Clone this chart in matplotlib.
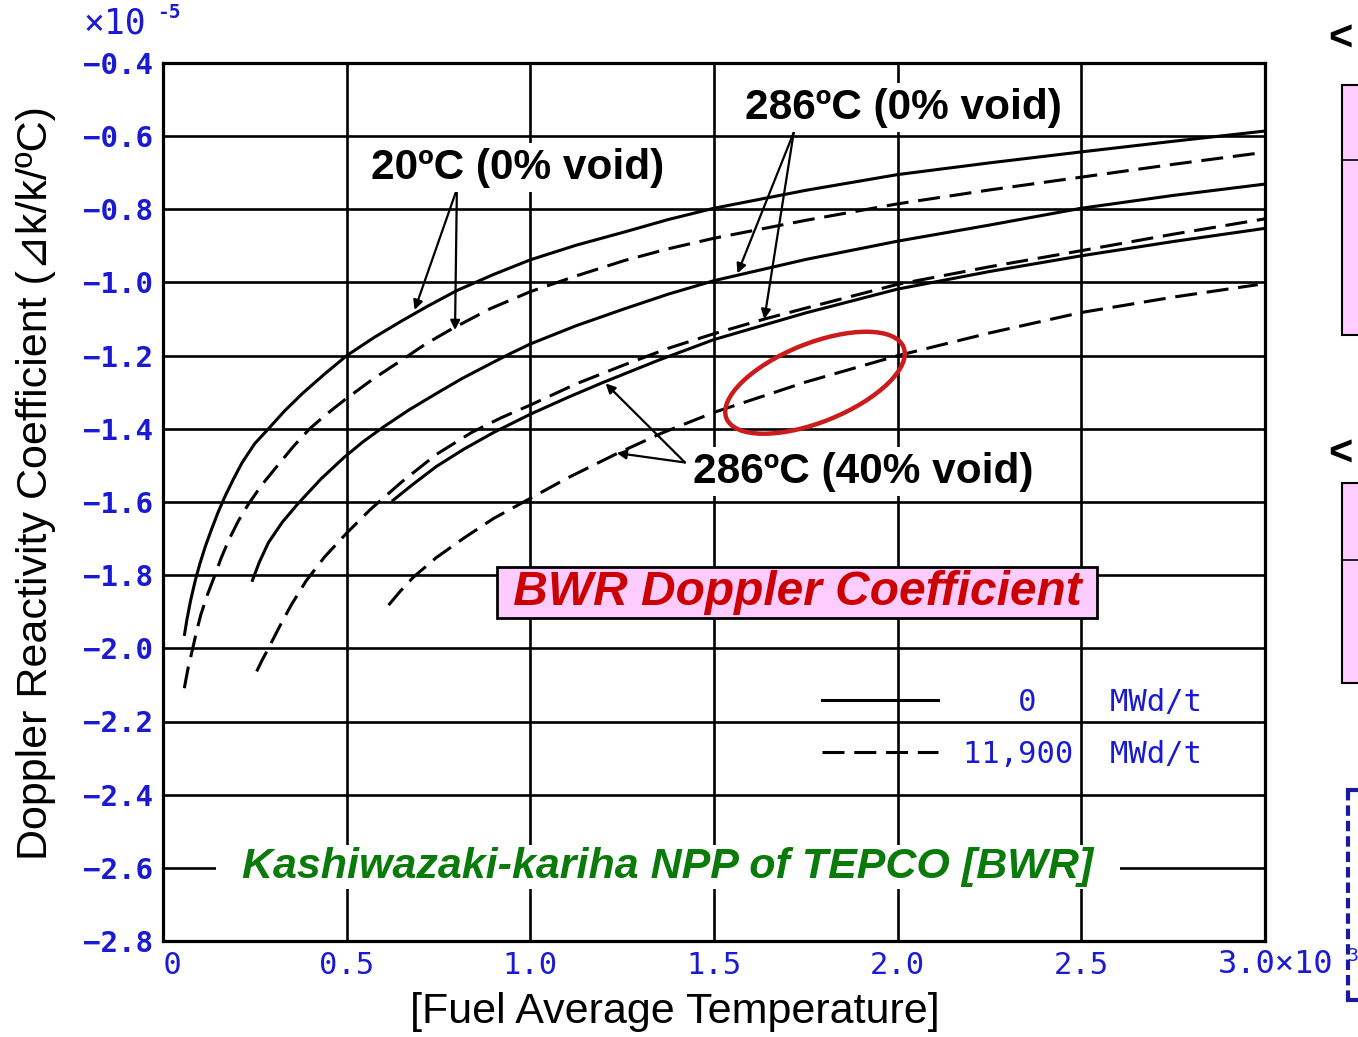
import matplotlib
matplotlib.use("Agg")
import matplotlib.pyplot as plt
from matplotlib.patches import Ellipse, Rectangle
from matplotlib.lines import Line2D
from matplotlib.font_manager import FontProperties

# ---- data (x in 10^3 C, y in 10^-5 dk/k/C) ----
# 20C (0% void), 0 MWd/t
c20_fresh_x = [0.058, 0.065, 0.075, 0.087, 0.1, 0.115, 0.132, 0.15, 0.17, 0.192, 0.215, 0.25, 0.287, 0.33, 0.38,
               0.44, 0.5, 0.575, 0.65, 0.72, 0.8, 0.9, 1.0, 1.125, 1.256, 1.375, 1.5, 1.75, 2.0, 2.25, 2.5,
               2.75, 3.0]
c20_fresh_y = [-1.966, -1.922, -1.87, -1.818, -1.77, -1.722, -1.675, -1.628, -1.582, -1.537, -1.493, -1.44,
               -1.40, -1.352, -1.303, -1.25, -1.20, -1.15, -1.105, -1.065, -1.022, -0.978, -0.938, -0.898,
               -0.862, -0.828, -0.797, -0.748, -0.705, -0.673, -0.643, -0.614, -0.586]
# 20C (0% void), 11,900 MWd/t
c20_burn_x = [0.058, 0.069, 0.081, 0.091, 0.103, 0.12, 0.139, 0.158, 0.179, 0.205, 0.233, 0.27, 0.314, 0.355,
              0.399, 0.445, 0.493, 0.57, 0.65, 0.715, 0.786, 0.89, 1.0, 1.125, 1.256, 1.375, 1.5, 1.75, 2.0,
              2.25, 2.5, 2.75, 3.0]
c20_burn_y = [-2.109, -2.05, -2.0, -1.955, -1.908, -1.856, -1.806, -1.754, -1.704, -1.652, -1.605, -1.552,
              -1.498, -1.448, -1.40, -1.36, -1.322, -1.265, -1.212, -1.168, -1.127, -1.072, -1.025, -0.982,
              -0.94, -0.908, -0.879, -0.83, -0.785, -0.747, -0.712, -0.677, -0.644]
# 286C (0% void), 0 MWd/t
c286_fresh_x = [0.242, 0.262, 0.287, 0.325, 0.367, 0.43, 0.493, 0.545, 0.6, 0.67, 0.75, 0.815, 0.88, 0.94, 1.0,
                1.125, 1.256, 1.375, 1.5, 1.75, 2.0, 2.25, 2.5, 2.75, 3.0]
c286_fresh_y = [-1.818, -1.765, -1.711, -1.655, -1.605, -1.537, -1.478, -1.435, -1.395, -1.348, -1.30, -1.262,
                -1.228, -1.197, -1.168, -1.118, -1.072, -1.032, -0.995, -0.937, -0.887, -0.843, -0.797,
                -0.762, -0.731]
# 286C (0% void), 11,900 MWd/t
c286_burn_x = [0.255, 0.27, 0.287, 0.315, 0.35, 0.39, 0.44, 0.5, 0.565, 0.65, 0.744, 0.84, 0.92, 1.0, 1.125,
               1.256, 1.375, 1.5, 1.637, 1.75, 2.0, 2.25, 2.5, 2.75, 3.0]
c286_burn_y = [-2.063, -2.032, -2.0, -1.945, -1.88, -1.815, -1.75, -1.685, -1.62, -1.545, -1.47, -1.41, -1.37,
               -1.335, -1.277, -1.225, -1.18, -1.14, -1.10, -1.07, -1.005, -0.957, -0.913, -0.868, -0.826]
# 286C (40% void), 0 MWd/t
c286v_fresh_x = [0.623, 0.68, 0.744, 0.82, 0.9, 1.0, 1.1, 1.196, 1.35, 1.5, 1.75, 2.0, 2.25, 2.5, 2.75, 3.0]
c286v_fresh_y = [-1.598, -1.552, -1.503, -1.455, -1.41, -1.36, -1.315, -1.274, -1.212, -1.156, -1.083, -1.018,
                 -0.97, -0.927, -0.888, -0.852]
# 286C (40% void), 11,900 MWd/t
c286v_burn_x = [0.614, 0.645, 0.681, 0.744, 0.82, 0.9, 1.0, 1.1, 1.235, 1.357, 1.5, 1.75, 2.0, 2.25, 2.5, 2.75,
                2.98]
c286v_burn_y = [-1.882, -1.845, -1.806, -1.752, -1.698, -1.645, -1.59, -1.535, -1.468, -1.412, -1.355, -1.272,
                -1.20, -1.138, -1.082, -1.04, -1.006]

xtick_vals = [0, 0.5, 1.0, 1.5, 2.0, 2.5, 3.0]
xtick_labels = [" 0", "0.5", "1.0", "1.5", "2.0", "2.5", ""]
ytick_vals = [-0.4, -0.6, -0.8, -1.0, -1.2, -1.4, -1.6, -1.8, -2.0, -2.2, -2.4, -2.6, -2.8]
legend_labels = ["   0    MWd/t", "11,900  MWd/t"]

BLUE = "#1a1ad2"
SANS = ["Liberation Sans", "DejaVu Sans", "Noto Sans CJK JP"]
MONO = ["DejaVu Sans Mono", "DejaVu Sans"]

fig = plt.figure(figsize=(13.58, 10.37), dpi=100)
ax = fig.add_axes([163 / 1358, 96 / 1037, 1102 / 1358, 878 / 1037])

dash = (7.2, 3.2)
lw = 2.2
solid_curves = [(c20_fresh_x, c20_fresh_y), (c286_fresh_x, c286_fresh_y), (c286v_fresh_x, c286v_fresh_y)]
dashed_curves = [(c20_burn_x, c20_burn_y), (c286_burn_x, c286_burn_y), (c286v_burn_x, c286v_burn_y)]
for xs, ys in solid_curves:
    ax.plot(xs, ys, color="black", lw=lw, solid_capstyle="butt", solid_joinstyle="round", zorder=3)
for xs, ys in dashed_curves:
    ax.plot(xs, ys, color="black", lw=lw, dashes=dash, dash_capstyle="butt", zorder=3)

ax.set_xlim(0, 3.0)
ax.set_ylim(-2.8, -0.4)
ax.set_xticks(xtick_vals)
ax.set_xticklabels(xtick_labels, fontfamily=MONO, fontsize=22, color=BLUE)
ax.set_yticks(ytick_vals)
ax.set_yticklabels(["\u2212%.1f" % abs(v) for v in ytick_vals], fontfamily=MONO,
                   fontsize=21, fontweight="bold", color=BLUE)
ax.tick_params(length=0, pad=7)
ax.grid(True, color="black", lw=1.9)
ax.set_axisbelow(True)
for sp in ax.spines.values():
    sp.set_linewidth(2.3)

ax.set_xlabel("[Fuel Average Temperature]", fontfamily=SANS, fontsize=31)
ax.xaxis.set_label_coords(0.4646, -0.058)
ax.set_ylabel("Doppler Reactivity Coefficient (\u22bfk/k/\u00baC)", fontfamily=SANS, fontsize=31)
ax.yaxis.set_label_coords(-0.097, 0.522)

# exponent markers
fig.text(83 / 1358, 1 - 24 / 1037, "\u00d710", fontfamily=MONO, fontsize=25, color=BLUE, va="center")
fig.text(157 / 1358, 1 - 13 / 1037, "-5", fontfamily=MONO, fontsize=14, fontweight="bold", color=BLUE, va="center")
ax.text(2.872, -2.865, "3.0\u00d710", fontfamily=MONO, fontsize=23, color=BLUE, va="center", ha="left", clip_on=False)
ax.text(3.225, -2.84, "3", fontfamily=MONO, fontsize=13, color=BLUE, va="center", ha="left", clip_on=False)

# curve labels
lab_kw = dict(fontfamily=SANS, fontsize=30.5, fontweight="bold", va="center", ha="left", zorder=5,
              bbox=dict(boxstyle="square,pad=0.1", fc="white", ec="none"))
ax.text(0.566, -0.686, "20\u00baC (0% void)   ", **lab_kw)
ax.text(1.584, -0.522, "286\u00baC (0% void)", **lab_kw)
ax.text(1.443, -1.517, "286\u00baC (40% void)", **lab_kw)

arr = dict(arrowstyle="-|>", color="black", lw=1.6, mutation_scale=14, shrinkA=0, shrinkB=0)
for tip in [(0.685, -1.075), (0.795, -1.13)]:
    ax.annotate("", xy=tip, xytext=(0.80, -0.745), arrowprops=arr, zorder=4)
for tip in [(1.564, -0.975), (1.637, -1.10)]:
    ax.annotate("", xy=tip, xytext=(1.717, -0.59), arrowprops=arr, zorder=4)
for tip in [(1.205, -1.276), (1.235, -1.466)]:
    ax.annotate("", xy=tip, xytext=(1.421, -1.492), arrowprops=arr, zorder=4)

# highlighted region
ax.add_patch(Ellipse((1.775, -1.274), 0.52, 0.215, angle=22, fill=False,
                     edgecolor="#cc1b1b", lw=3.2, zorder=6))

ax.text(1.726, -1.848, " BWR Doppler Coefficient ", fontfamily=SANS, fontsize=34.5,
        fontweight="bold", fontstyle="italic", color="#cc0000", ha="center", va="center", zorder=6,
        bbox=dict(boxstyle="square,pad=0.06", fc="#ffccff", ec="black", lw=2))
ax.text(1.375, -2.597, "  Kashiwazaki-kariha NPP of TEPCO [BWR]  ", fontfamily=SANS, fontsize=31,
        fontweight="bold", fontstyle="italic", color="#0a7a0a", ha="center", va="center", zorder=6,
        bbox=dict(boxstyle="square,pad=0.05", fc="white", ec="none"))

# burnup legend
handles = [Line2D([], [], color="black", lw=lw),
           Line2D([], [], color="black", lw=lw, dashes=dash)]
ax.legend(handles, legend_labels, loc="upper left", bbox_to_anchor=(0.598, 0.288),
          frameon=False, prop=FontProperties(family=MONO, size=22), labelcolor=BLUE,
          handlelength=3.8, handletextpad=0.8, borderpad=0, borderaxespad=0, labelspacing=0.75)

# fragments of the neighbouring panel on the right edge
fig.text(1328 / 1358, 1 - 40 / 1037, "<", fontfamily=SANS, fontsize=30, fontweight="bold", va="center")
fig.text(1328 / 1358, 1 - 455 / 1037, "<", fontfamily=SANS, fontsize=30, fontweight="bold", va="center")
for top, mid, bot in [(85, 160, 335), (483, 560, 683)]:
    fig.add_artist(Rectangle((1342 / 1358, 1 - bot / 1037), 40 / 1358, (bot - top) / 1037,
                             transform=fig.transFigure, fc="#ffccff", ec="black", lw=1.5))
    fig.add_artist(Line2D([1342 / 1358, 1], [1 - mid / 1037] * 2, transform=fig.transFigure,
                          color="black", lw=1.2))
fig.add_artist(Line2D([1348 / 1358, 1348 / 1358], [1 - 790 / 1037, 1 - 1000 / 1037],
                      transform=fig.transFigure, color="#1a1aa0", lw=3, dashes=(2.5, 1.2)))
fig.add_artist(Line2D([1348 / 1358, 1], [1 - 790 / 1037] * 2, transform=fig.transFigure,
                      color="#1a1aa0", lw=3))
fig.add_artist(Line2D([1348 / 1358, 1], [1 - 1000 / 1037] * 2, transform=fig.transFigure,
                      color="#1a1aa0", lw=3))

fig.savefig("out.png", dpi=100)
